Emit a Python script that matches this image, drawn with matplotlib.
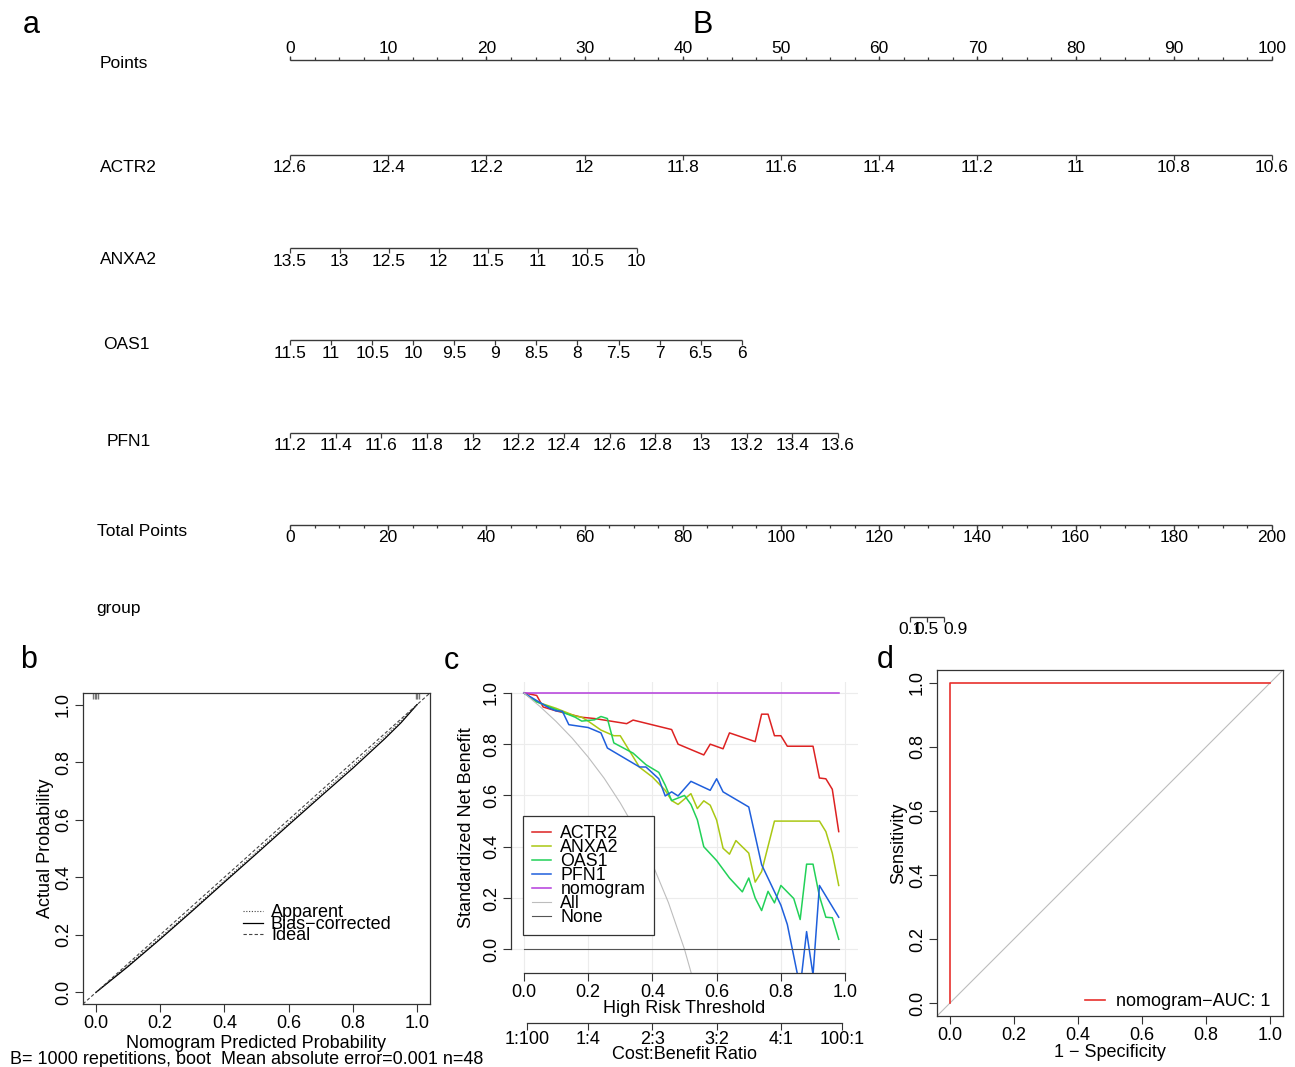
import numpy as np
import matplotlib
matplotlib.use("Agg")
import matplotlib.pyplot as plt

plt.rcParams.update({
    "font.family": ["Liberation Sans", "DejaVu Sans"],
    "font.size": 13,
    "axes.linewidth": 0.9,
    "axes.edgecolor": "#333333",
})

W, H = 1295, 1067

# ---------------------------------------------------------------------------
# data
# ---------------------------------------------------------------------------
# nomogram (a): scale values and the points they map to (start value, end value, points at end)
POINT_TICKS = np.arange(0, 101, 10)
POINT_MINOR = np.arange(0, 100.1, 2.5)
ACTR2_VALS = [12.6, 12.4, 12.2, 12, 11.8, 11.6, 11.4, 11.2, 11, 10.8, 10.6]
ANXA2_VALS = [13.5, 13, 12.5, 12, 11.5, 11, 10.5, 10]
OAS1_VALS = [11.5, 11, 10.5, 10, 9.5, 9, 8.5, 8, 7.5, 7, 6.5, 6]
PFN1_VALS = [11.2, 11.4, 11.6, 11.8, 12, 12.2, 12.4, 12.6, 12.8, 13, 13.2, 13.4, 13.6]
SCALE_RANGE = {
    "ACTR2": (12.6, 10.6, 100.0),
    "ANXA2": (13.5, 10.0, 35.3),
    "OAS1": (11.5, 6.0, 46.0),
    "PFN1": (11.2, 13.6, 55.8),
}
TOTAL_TICKS = np.arange(0, 201, 20)
TOTAL_MINOR = np.arange(0, 200.1, 5)
GROUP_PROB = [0.1, 0.5, 0.9]
GROUP_TOTAL = [126.3, 129.7, 133.2]

# calibration (b)
CAL_X = [0.0, 0.1, 0.2, 0.3, 0.4, 0.5, 0.6, 0.7, 0.8, 0.9, 0.95, 1.0]
CAL_BIAS = [0.0, 0.09, 0.185, 0.283, 0.383, 0.482, 0.582, 0.681, 0.779, 0.882, 0.937, 1.0]
CAL_APPARENT = [0.0, 0.094, 0.19, 0.288, 0.388, 0.488, 0.588, 0.688, 0.787, 0.89, 0.944, 1.0]
RUG_LOW = [-0.008, -0.003, 0.002, 0.007]
RUG_HIGH = [0.995, 1.0, 1.005]

# decision curves (c)
ACTR2_T = [0, 0.04, 0.06, 0.10, 0.18, 0.22, 0.32, 0.34, 0.46, 0.48, 0.56, 0.58, 0.62,
           0.64, 0.72, 0.74, 0.76, 0.78, 0.80, 0.82, 0.90, 0.92, 0.94, 0.96, 0.98]
ACTR2_NB = [1.0, 0.99, 0.945, 0.93, 0.905, 0.90, 0.88, 0.894, 0.857, 0.80, 0.758, 0.80,
            0.782, 0.844, 0.81, 0.917, 0.917, 0.833, 0.833, 0.792, 0.792, 0.668, 0.665,
            0.624, 0.459]
ANXA2_T = [0, 0.04, 0.10, 0.16, 0.18, 0.20, 0.24, 0.28, 0.30, 0.36, 0.40, 0.44, 0.46,
           0.48, 0.52, 0.54, 0.56, 0.58, 0.60, 0.62, 0.64, 0.66, 0.70, 0.72, 0.74, 0.78,
           0.92, 0.94, 0.96, 0.98]
ANXA2_NB = [1.0, 0.965, 0.94, 0.91, 0.905, 0.89, 0.855, 0.833, 0.833, 0.71, 0.672, 0.62,
            0.58, 0.565, 0.607, 0.549, 0.579, 0.562, 0.504, 0.394, 0.371, 0.424, 0.375,
            0.262, 0.303, 0.50, 0.50, 0.459, 0.375, 0.249]
OAS1_T = [0, 0.04, 0.08, 0.12, 0.16, 0.18, 0.22, 0.24, 0.26, 0.28, 0.34, 0.38, 0.42,
          0.44, 0.46, 0.50, 0.52, 0.54, 0.56, 0.60, 0.64, 0.68, 0.70, 0.72, 0.74, 0.76,
          0.78, 0.80, 0.84, 0.86, 0.88, 0.90, 0.92, 0.94, 0.96, 0.98]
OAS1_NB = [1.0, 0.965, 0.945, 0.925, 0.905, 0.89, 0.895, 0.908, 0.90, 0.805, 0.765,
           0.72, 0.69, 0.64, 0.58, 0.60, 0.565, 0.505, 0.40, 0.346, 0.278, 0.224, 0.278,
           0.20, 0.151, 0.226, 0.181, 0.249, 0.198, 0.116, 0.332, 0.332, 0.207, 0.125,
           0.123, 0.039]
PFN1_T = [0, 0.04, 0.08, 0.10, 0.12, 0.14, 0.20, 0.24, 0.26, 0.36, 0.38, 0.42, 0.44,
          0.46, 0.48, 0.52, 0.58, 0.60, 0.62, 0.70, 0.74, 0.80, 0.82, 0.86, 0.88, 0.90,
          0.92, 0.98]
PFN1_NB = [1.0, 0.97, 0.94, 0.93, 0.928, 0.876, 0.865, 0.844, 0.785, 0.711, 0.711,
           0.665, 0.598, 0.614, 0.598, 0.655, 0.62, 0.665, 0.614, 0.555, 0.33, 0.172,
           0.097, -0.15, 0.069, -0.10, 0.249, 0.125]
NOMO_T = [0, 0.98]
NOMO_NB = [1.0, 1.0]
ALL_T = [0, 0.05, 0.10, 0.15, 0.20, 0.25, 0.30, 0.35, 0.40, 0.45, 0.50, 0.55]
ALL_NB = [1.0, 0.947, 0.889, 0.824, 0.75, 0.667, 0.571, 0.462, 0.333, 0.182, 0.0, -0.222]
NONE_T = [0, 0.98]
NONE_NB = [0.0, 0.0]
CB_TICKS = [0.01, 0.2, 0.4, 0.6, 0.8, 0.99]
CB_LABELS = ["1:100", "1:4", "2:3", "3:2", "4:1", "100:1"]

# ROC (d)
ROC_FPR = [0.0, 0.0, 1.0]
ROC_TPR = [0.0, 1.0, 1.0]

COLORS = {
    "ACTR2": "#dd2222", "ANXA2": "#aac814", "OAS1": "#22d158", "PFN1": "#1f5fdc",
    "nomogram": "#b43cdc", "All": "#bdbdbd", "None": "#555555",
}


def fx(px):
    return px / W


def fy(py):
    return 1 - py / H


fig = plt.figure(figsize=(W / 100, H / 100), dpi=100)

# ---------------------------------------------------------------------------
# a: nomogram
# ---------------------------------------------------------------------------
ax_n = fig.add_axes([fx(290), 0, 982 / W, 1])
ax_n.set_xlim(0, 100)
ax_n.set_ylim(H, 0)
ax_n.axis("off")
LINE = "#3a3a3a"
NOMO_FS = 12.5


def to_points(name, vals):
    v0, v1, p1 = SCALE_RANGE[name]
    return (np.asarray(vals, float) - v0) / (v1 - v0) * p1


def scale(y, pos, labels, minor=None, up=False, shift=None):
    pos = np.asarray(pos, float)
    d = -1 if up else 1
    ax_n.plot([pos.min(), pos.max()], [y, y], color=LINE, lw=1.0,
              solid_capstyle="butt", clip_on=False)
    ax_n.vlines(pos, y, y + d * 4.5, color=LINE, lw=0.9, clip_on=False)
    if minor is not None:
        ax_n.vlines(minor, y, y + d * 3, color=LINE, lw=0.9, clip_on=False)
    if shift is None:
        shift = np.zeros(len(pos))
    for p, s, lab in zip(pos, shift, labels):
        if up:
            ax_n.text(p + s, y - 7, lab, ha="center", va="baseline",
                      fontsize=NOMO_FS, clip_on=False)
        else:
            ax_n.text(p + s, y + 5.5, lab, ha="center", va="top",
                      fontsize=NOMO_FS, clip_on=False)


def fmt(v):
    return f"{v:g}"


scale(60, POINT_TICKS, [fmt(v) for v in POINT_TICKS], minor=POINT_MINOR, up=True)
scale(155, to_points("ACTR2", ACTR2_VALS), [fmt(v) for v in ACTR2_VALS])
scale(248, to_points("ANXA2", ANXA2_VALS), [fmt(v) for v in ANXA2_VALS])
scale(340, to_points("OAS1", OAS1_VALS), [fmt(v) for v in OAS1_VALS])
scale(433, to_points("PFN1", PFN1_VALS), [fmt(v) for v in PFN1_VALS])
scale(525, TOTAL_TICKS / 2, [fmt(v) for v in TOTAL_TICKS], minor=TOTAL_MINOR / 2)
scale(617, np.array(GROUP_TOTAL) / 2, [fmt(v) for v in GROUP_PROB],
      shift=[0, 0, 1.2])

for text, px, py in [("Points", 100, 64), ("ACTR2", 100, 167), ("ANXA2", 100, 259),
                     ("OAS1", 103, 345), ("PFN1", 107, 441),
                     ("Total Points", 97, 532), ("group", 96, 608)]:
    fig.text(fx(px), fy(py), text, ha="left", va="center", fontsize=NOMO_FS)

for text, px, py in [("a", 31, 25), ("B", 703, 25), ("b", 29, 660),
                     ("c", 451, 661), ("d", 885, 660)]:
    fig.text(fx(px), fy(py), text, ha="center", va="center", fontsize=22)


def r_axes(ax):
    ax.tick_params(length=6, width=0.8, color="#333333", labelsize=13, pad=2)
    ax.tick_params(axis="y", labelrotation=90)
    for lab in ax.get_yticklabels():
        lab.set_va("center")


# ---------------------------------------------------------------------------
# b: calibration
# ---------------------------------------------------------------------------
ax_b = fig.add_axes([fx(83), fy(1004), 347 / W, 311 / H])
ax_b.set_xlim(-0.04, 1.04)
ax_b.set_ylim(-0.04, 1.04)
ax_b.plot(CAL_X, CAL_APPARENT, color="#444444", lw=0.8, ls=(0, (1, 1.5)), label="Apparent")
ax_b.plot(CAL_X, CAL_BIAS, color="black", lw=0.9, label="Bias\u2212corrected")
ax_b.axline((0, 0), (1, 1), color="#444444", lw=0.8, ls=(0, (3, 2)), label="Ideal")
ax_b.vlines(RUG_LOW + RUG_HIGH, 1.02, 1.04, color="#777777", lw=1.0)
ticks = np.arange(0, 1.01, 0.2)
ax_b.set_xticks(ticks)
ax_b.set_yticks(ticks)
ax_b.set_xticklabels([f"{t:.1f}" for t in ticks])
ax_b.set_yticklabels([f"{t:.1f}" for t in ticks])
r_axes(ax_b)
ax_b.set_xlabel("Nomogram Predicted Probability", fontsize=13, labelpad=2)
ax_b.set_ylabel("Actual Probability", fontsize=13, labelpad=1)
ax_b.legend(loc="upper left", bbox_to_anchor=(0.44, 0.344), frameon=False,
            fontsize=13, labelspacing=-0.3, handlelength=1.1, handletextpad=0.45,
            borderaxespad=0)
fig.text(fx(10), fy(1059), "B= 1000 repetitions, boot  Mean absolute error=0.001 n=48",
         ha="left", va="center", fontsize=13)

# ---------------------------------------------------------------------------
# c: decision curves
# ---------------------------------------------------------------------------
ax_c = fig.add_axes([fx(511), fy(973), 347 / W, 291 / H])
ax_c.set_xlim(-0.04, 1.04)
ax_c.set_ylim(-0.0925, 1.0425)
ax_c.grid(True, color="#ececec", lw=0.8)
ax_c.set_axisbelow(True)
curves = [("ACTR2", ACTR2_T, ACTR2_NB), ("ANXA2", ANXA2_T, ANXA2_NB),
          ("OAS1", OAS1_T, OAS1_NB), ("PFN1", PFN1_T, PFN1_NB),
          ("nomogram", NOMO_T, NOMO_NB), ("All", ALL_T, ALL_NB),
          ("None", NONE_T, NONE_NB)]
for name, t, nb in curves:
    lw = 0.8 if name in ("All", "None") else 1.1
    ax_c.plot(t, nb, color=COLORS[name], lw=lw, label=name)
ax_c.set_xticks(ticks)
ax_c.set_yticks(ticks)
ax_c.set_xticklabels([f"{t:.1f}" for t in ticks])
ax_c.set_yticklabels([f"{t:.1f}" for t in ticks])
r_axes(ax_c)
for s in ("top", "right"):
    ax_c.spines[s].set_visible(False)
ax_c.spines["left"].set_bounds(0, 1)
ax_c.spines["bottom"].set_bounds(0, 1)
ax_c.set_xlabel("High Risk Threshold", fontsize=13, labelpad=-1)
ax_c.set_ylabel("Standardized Net Benefit", fontsize=13, labelpad=6)
leg = ax_c.legend(loc="upper left", bbox_to_anchor=(0.0346, 0.5395), fontsize=12.8,
                  labelspacing=-0.17, handlelength=1.1, handletextpad=0.5,
                  borderpad=0.5, borderaxespad=0, fancybox=False, framealpha=1)
leg.get_frame().set_edgecolor("#333333")
leg.get_frame().set_linewidth(0.9)

sec = ax_c.secondary_xaxis(-0.172)
sec.set_xticks(CB_TICKS)
sec.set_xticklabels(CB_LABELS)
sec.spines["bottom"].set_bounds(CB_TICKS[0], CB_TICKS[-1])
sec.tick_params(length=5, width=0.8, color="#333333", labelsize=13, pad=1)
sec.set_xlabel("Cost:Benefit Ratio", fontsize=13, labelpad=-2)

# ---------------------------------------------------------------------------
# d: ROC
# ---------------------------------------------------------------------------
ax_d = fig.add_axes([fx(937), fy(1016), 346 / W, 346 / H])
ax_d.set_xlim(-0.04, 1.04)
ax_d.set_ylim(-0.04, 1.04)
ax_d.axline((0, 0), (1, 1), color="#bdbdbd", lw=0.8)
ax_d.plot(ROC_FPR, ROC_TPR, color="#e8302c", lw=1.2, label="nomogram\u2212AUC: 1")
ax_d.set_xticks(ticks)
ax_d.set_yticks(ticks)
ax_d.set_xticklabels([f"{t:.1f}" for t in ticks])
ax_d.set_yticklabels([f"{t:.1f}" for t in ticks])
r_axes(ax_d)
ax_d.set_xlabel("1 \u2212 Specificity", fontsize=13, labelpad=0)
ax_d.set_ylabel("Sensitivity", fontsize=13, labelpad=1.5)
ax_d.legend(loc="lower right", bbox_to_anchor=(0.968, 0.012), frameon=False,
            fontsize=13, handlelength=1.1, handletextpad=0.6, borderaxespad=0,
            borderpad=0.1)

fig.savefig("out.png", dpi=100)
